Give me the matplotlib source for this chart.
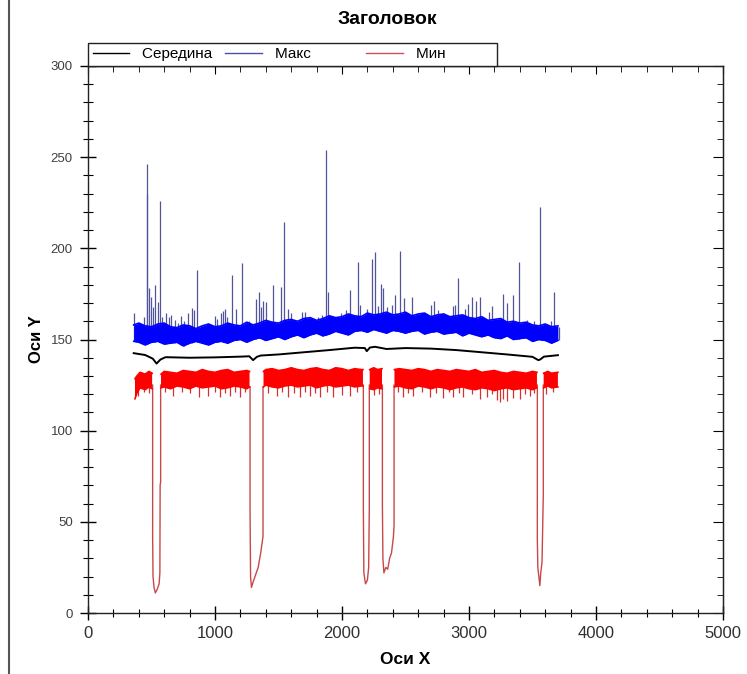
import numpy as np
import matplotlib
matplotlib.use("Agg")
import matplotlib.pyplot as plt
from matplotlib.lines import Line2D
from matplotlib.ticker import MultipleLocator

plt.rcParams['font.family'] = ['Liberation Sans', 'DejaVu Sans']

title = "Заголовок"
xlabel = "Оси X"
ylabel = "Оси Y"
series_names = ["Середина", "Макс", "Мин"]
x_ticks = [0, 1000, 2000, 3000, 4000, 5000]
y_ticks = [0, 50, 100, 150, 200, 250, 300]

# ---- Середина (black) ----
mid_x = [360, 450, 510, 540, 570, 610, 800, 1000, 1200, 1270, 1300, 1330, 1360, 1500,
         1700, 1900, 2100, 2180, 2195, 2220, 2260, 2350, 2500, 2700, 2900, 3100, 3300,
         3500, 3545, 3560, 3590, 3700]
mid_y = [142.5, 141.5, 139.5, 136.8, 139.0, 140.3, 140.0, 140.2, 140.6, 140.8, 138.7,
         140.5, 141.2, 141.8, 143.0, 144.2, 145.5, 145.3, 143.6, 145.6, 146.0, 144.8,
         145.3, 145.0, 144.2, 143.0, 141.8, 140.5, 138.7, 139.0, 140.6, 141.4]

# ---- Макс (blue): dense band envelope + spikes ----
max_x = [360, 400, 450, 500, 550, 600, 650, 700, 750, 800, 850, 900, 950, 1000, 1050,
         1100, 1150, 1200, 1250, 1300, 1350, 1400, 1450, 1500, 1550, 1600, 1650, 1700,
         1750, 1800, 1850, 1900, 1950, 2000, 2050, 2100, 2150, 2200, 2250, 2300, 2350,
         2400, 2450, 2500, 2550, 2600, 2650, 2700, 2750, 2800, 2850, 2900, 2950, 3000,
         3050, 3100, 3150, 3200, 3250, 3300, 3350, 3400, 3450, 3500, 3550, 3600, 3650, 3700]
max_lo = [149, 148.5, 147, 148.5, 149, 147.5, 148, 148.5, 146.5, 148, 149, 148, 147, 148.5,
          149, 148, 149.5, 150, 148.5, 150, 151, 149.5, 150.5, 151.5, 150, 151.5, 152.5, 151,
          152.5, 153.5, 152, 153, 154.5, 153.5, 152.5, 154.5, 155, 154, 155.5, 154.5,
          153.5, 155, 154.5, 153.5, 154.5, 155, 153, 154, 154.5, 153, 153.5, 154, 152,
          153.5, 152.5, 151.5, 152.5, 151, 150.5, 152, 150, 150.5, 151, 149, 150, 149.5,
          148, 149.5]
max_hi = [158, 159, 157.5, 157, 158.5, 159, 157, 156.5, 158, 157.5, 156, 157.5, 158.5, 157,
          157.5, 159, 158, 157.5, 159.5, 158, 159, 160.5, 159.5, 159, 160.5, 161, 160, 161.5,
          162, 160.5, 161.5, 163, 162, 162.5, 164, 163, 162.5, 164.5, 163.5, 164,
          165, 163.5, 164, 165, 163, 164, 164.5, 162.5, 163.5, 164, 162.5, 163, 163.5,
          162, 161.5, 162.5, 160.5, 161, 161.5, 159.5, 160, 159, 159.5, 158, 157.5, 158.5,
          157, 157.5]
max_spike_x = [362, 415, 441, 462, 467, 480, 496, 514, 530, 549, 564, 580, 614, 640, 654,
               685, 706, 732, 754, 785, 816, 835, 861, 900, 1000, 1016, 1045, 1063, 1079,
               1097, 1134, 1165, 1215, 1268, 1320, 1349, 1362, 1380, 1399, 1457, 1520,
               1541, 1577, 1598, 1687, 1709, 1808, 1845, 1877, 1892, 1992, 2031, 2063,
               2123, 2142, 2199, 2239, 2257, 2286, 2305, 2325, 2352, 2391, 2417, 2459,
               2488, 2554, 2636, 2701, 2722, 2758, 2801, 2872, 2890, 2916, 2969, 2994,
               3026, 3053, 3084, 3160, 3179, 3270, 3297, 3349, 3396, 3454, 3509, 3562,
               3646, 3669, 3709]
max_spike_y = [164.7, 158.5, 162.5, 246.2, 230.0, 178.0, 173.5, 168.0, 180.0, 170.7, 226.0,
               162.5, 164.3, 162.5, 163.4, 160.7, 159.0, 162.9, 160.0, 164.7, 167.4, 166.2,
               188.0, 157.0, 162.9, 161.5, 164.3, 165.8, 166.5, 162.5, 185.4, 167.0, 191.8,
               159.9, 172.0, 176.2, 168.0, 171.0, 170.7, 179.9, 179.0, 214.6, 167.0, 164.3,
               165.2, 165.2, 162.5, 163.4, 253.9, 176.2, 164.3, 166.2, 177.1, 192.7, 169.0,
               166.5, 194.0, 198.1, 168.4, 180.4, 178.4, 168.0, 169.0, 174.4, 198.5, 172.6,
               173.5, 164.7, 168.8, 171.2, 166.2, 164.3, 168.4, 169.0, 183.5, 167.0, 169.4,
               173.1, 171.2, 173.1, 164.9, 168.4, 174.9, 169.9, 174.4, 192.3, 160.7, 160.2,
               222.5, 160.2, 176.2, 157.0]

# ---- Мин (red): band envelope (NaN = gap) + downward spikes + drop-outs ----
nan = float('nan')
min_x = [370, 385, 410, 450, 480, 505, 509, 572,
         575, 600, 650, 700, 750, 800, 850, 900, 950, 1000, 1050, 1100, 1150, 1200, 1250,
         1272, 1276, 1378,
         1382, 1400, 1450, 1500, 1550, 1600, 1650, 1700, 1750, 1800, 1850, 1900, 1950,
         2000, 2050, 2100, 2150, 2165, 2168, 2215,
         2218, 2250, 2280, 2315, 2318, 2410,
         2413, 2450, 2500, 2550, 2600, 2650, 2700, 2750, 2800, 2850, 2900, 2950, 3000,
         3050, 3100, 3150, 3200, 3250, 3300, 3350, 3400, 3450, 3500, 3535, 3538, 3585,
         3588, 3620, 3650, 3700]
min_lo = [117.5, 120.5, 123.5, 122.5, 124, 123, nan, nan,
          123.5, 124, 123, 124.5, 124, 123, 124.5, 123.5, 124, 124.5, 123, 123.5, 124.5,
          124, 123, 124, nan, nan,
          124, 125, 124, 123.5, 124.5, 125, 124, 124.5, 125, 123.5, 124.5, 125, 124,
          124.5, 125, 124, 124.5, 124.5, nan, nan,
          123, 122.5, 123.5, 123, nan, nan,
          124, 124.5, 123.5, 123, 124.5, 124, 123, 124, 123.5, 122.5, 123.5, 124, 123,
          122.5, 123.5, 123, 122, 123, 123.5, 122.5, 123, 123.5, 122.5, 123.5, nan, nan,
          123.5, 124.5, 123.5, 124]
min_hi = [128.5, 130, 132, 131, 132.5, 131.5, nan, nan,
          131, 132.5, 132, 131.5, 133, 132.5, 132, 133.5, 132.5, 132, 133, 133.5, 132,
          132.5, 133, 132.5, nan, nan,
          132.5, 133.5, 134, 133, 133.5, 134.5, 133.5, 133, 134, 134.5, 133.5, 133, 134.5,
          134, 133, 134, 133.5, 133.5, nan, nan,
          133.5, 134.5, 133.5, 134, nan, nan,
          133.5, 134, 133.5, 133, 134, 133.5, 132.5, 133.5, 133, 132.5, 133.5, 133, 132.5,
          133.5, 132, 132.5, 133, 132, 131.5, 132.5, 132, 131.5, 132.5, 132, nan, nan,
          131.5, 132.5, 131.5, 132]
min_spike_x = [395, 440, 480, 610, 672, 740, 800, 874, 948, 1000, 1039, 1080, 1118, 1160,
               1197, 1240, 1420, 1486, 1530, 1577, 1620, 1669, 1710, 1748, 1790, 1827, 1880,
               1932, 1997, 2063, 2120, 2250, 2290, 2440, 2483, 2520, 2562, 2630, 2693, 2740,
               2798, 2840, 2876, 2920, 2955, 3020, 3087, 3139, 3180, 3218, 3244, 3270, 3297,
               3349, 3402, 3440, 3480, 3510, 3610, 3660]
min_spike_y = [119, 121, 120.5, 121, 119, 121, 120.5, 118.6, 119, 121, 118.6, 120.5, 119,
               121, 118.6, 121, 120.5, 119, 121, 118.6, 120.5, 118.6, 121, 119, 120.5, 118.6,
               121, 118.6, 119.5, 119, 121, 119.5, 120, 121, 118.6, 120.5, 119, 121, 118.6,
               120.5, 118, 121, 118.6, 120.5, 118.6, 120, 117.5, 118.6, 120, 117, 115.9,
               117.5, 116.5, 118, 117.5, 120, 119, 120.5, 120, 121]
drop1_x = [509, 509, 512, 520, 530, 545, 560, 566, 568, 572, 572]
drop1_y = [125, 42, 20, 14, 11, 13, 16, 22, 70, 72, 125]
drop2_x = [1276, 1276, 1280, 1287, 1300, 1320, 1340, 1360, 1372, 1378, 1378]
drop2_y = [124, 56, 20, 14, 17, 21, 25, 33, 39, 42, 124]
drop3_x = [2168, 2168, 2172, 2185, 2200, 2210, 2215, 2215]
drop3_y = [125, 58, 22, 16, 18, 25, 58, 125]
drop4_x = [2318, 2318, 2322, 2330, 2345, 2360, 2375, 2390, 2405, 2410, 2410]
drop4_y = [125, 60, 30, 22, 25, 24, 30, 33, 42, 48, 125]
drop5_x = [3538, 3538, 3542, 3550, 3558, 3565, 3575, 3585, 3585]
drop5_y = [125, 40, 25, 20, 15, 22, 28, 65, 125]

# ---------------- figure ----------------
W, H = 747, 674
fig = plt.figure(figsize=(W / 100, H / 100), dpi=100)
ax = fig.add_axes([88 / W, 1 - 613 / H, (723 - 88) / W, (613 - 66) / H])

blue = '#0000ff'
spike_blue = '#51549c'
red = '#ff0000'

# Макс
sp_base = np.interp(max_spike_x, max_x, max_lo)
ax.vlines(max_spike_x, sp_base, max_spike_y, color=spike_blue, lw=0.9, zorder=1)
ax.fill_between(max_x, max_lo, max_hi, color=blue, lw=0, zorder=2)
ax.plot(max_x, max_lo, color=blue, lw=1.2, zorder=2)
ax.plot(max_x, max_hi, color=blue, lw=1.2, zorder=2)

# Мин
msp_base = np.interp(min_spike_x, min_x, np.nan_to_num(min_lo, nan=124.0)) + 2
ax.vlines(min_spike_x, min_spike_y, msp_base, color='#d83030', lw=0.9, zorder=1)
for dx, dy in [(drop1_x, drop1_y), (drop2_x, drop2_y), (drop3_x, drop3_y),
               (drop4_x, drop4_y), (drop5_x, drop5_y)]:
    ax.plot(dx, dy, color='#c84848', lw=1.0, zorder=1)
ax.fill_between(min_x, min_lo, min_hi, color=red, lw=0, zorder=2)
ax.plot(min_x, min_lo, color=red, lw=1.2, zorder=2)
ax.plot(min_x, min_hi, color=red, lw=1.2, zorder=2)

# Середина
ax.plot(mid_x, mid_y, color='black', lw=1.4, zorder=3)

ax.set_xlim(0, 5000)
ax.set_ylim(0, 300)
ax.set_xticks(x_ticks)
ax.set_yticks(y_ticks)
ax.xaxis.set_minor_locator(MultipleLocator(200))
ax.yaxis.set_minor_locator(MultipleLocator(10))
ax.tick_params(axis='x', which='major', direction='inout', length=10, width=1,
               labelsize=12, labelcolor='#303030', pad=4)
ax.tick_params(axis='x', which='minor', direction='inout', length=6, width=0.8)
ax.tick_params(axis='y', which='major', direction='inout', length=12, width=1,
               labelsize=9.5, labelcolor='#404040', pad=5)
ax.tick_params(axis='y', which='minor', direction='inout', length=7, width=0.8)
for s in ax.spines.values():
    s.set_linewidth(1.0)
    s.set_color('#222222')

top = ax.secondary_xaxis('top')
top.set_xticks(x_ticks)
top.xaxis.set_minor_locator(MultipleLocator(200))
top.tick_params(which='major', direction='in', length=6, labeltop=False)
top.tick_params(which='minor', direction='in', length=4)
right = ax.secondary_yaxis('right')
right.set_yticks(y_ticks)
right.yaxis.set_minor_locator(MultipleLocator(10))
right.tick_params(which='major', direction='in', length=7, labelright=False)
right.tick_params(which='minor', direction='in', length=4)

ax.set_xlabel(xlabel, fontsize=12.5, fontweight='bold', labelpad=8)
ax.set_ylabel(ylabel, fontsize=12, fontweight='bold', labelpad=5)
fig.text(387 / W, 1 - 19 / H, title, ha='center', va='center', fontsize=14,
         fontweight='bold')

handles = [Line2D([], [], color='black', lw=1.0),
           Line2D([], [], color='#4a4ea8', lw=1.0),
           Line2D([], [], color='#d05060', lw=1.0)]
labels = [series_names[0] + "   ", series_names[1] + "             ",
          series_names[2] + "           "]
leg = ax.legend(handles, labels, ncol=3, loc='lower left',
                bbox_to_anchor=(0, 1.0), borderaxespad=0, fontsize=11,
                frameon=True, fancybox=False, edgecolor='#222222', framealpha=1,
                handlelength=2.4, handletextpad=0.85, columnspacing=0.0,
                borderpad=0.3)
leg.get_frame().set_linewidth(1.0)

fig.add_artist(Line2D([8.5 / W, 8.5 / W], [0, 1], transform=fig.transFigure,
                      color='#555555', lw=1.5))

fig.savefig('out.png', dpi=100)
